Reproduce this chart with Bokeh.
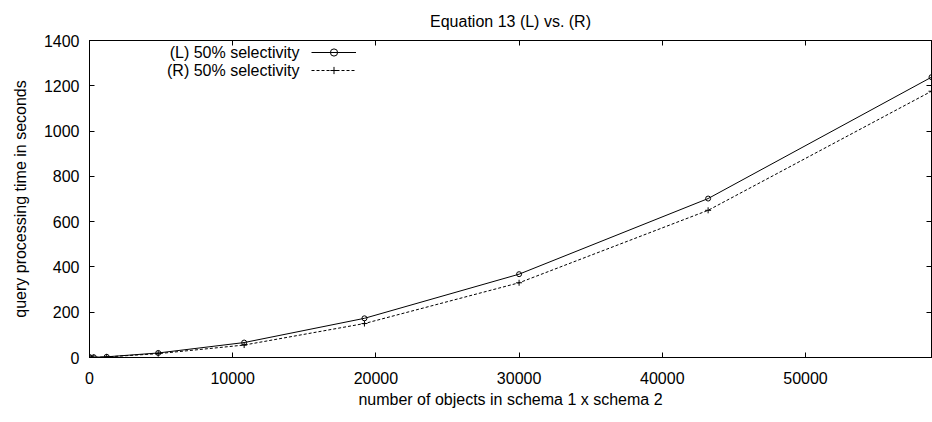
from bokeh.plotting import figure
from bokeh.models import (Range1d, LinearAxis, FixedTicker, CustomJSTickFormatter,
                          Legend, LegendItem, Label)
from bokeh.embed import file_html
from bokeh.resources import INLINE

# ---- data ----
objects = [48, 300, 1200, 4800, 10800, 19200, 30000, 43200, 58800]
time_L = [0.5, 1, 3, 20, 66, 173, 368, 702, 1238]
time_R = [0.4, 0.8, 2.5, 17, 55, 150, 330, 650, 1176]
x_ticks = [0, 10000, 20000, 30000, 40000, 50000]
y_ticks = [0, 200, 400, 600, 800, 1000, 1200, 1400]
title_text = "Equation 13 (L) vs. (R)"
label_L = "(L) 50% selectivity"
label_R = "(R) 50% selectivity"

FONT = "Liberation Sans"
FS = "16px"

p = figure(width=932, height=422, output_backend="svg", toolbar_location=None,
           x_range=Range1d(0, 58800), y_range=Range1d(0, 1400), title=title_text,
           min_border_left=89, min_border_right=1, min_border_top=10, min_border_bottom=65)

p.title.align = "center"
p.title.text_font = FONT
p.title.text_font_size = FS
p.title.text_font_style = "normal"
p.title.text_color = "black"
p.title.standoff = 21

p.xgrid.visible = False
p.ygrid.visible = False
p.outline_line_color = "black"
p.outline_line_width = 1
p.outline_line_alpha = 1

for ax in (p.xaxis[0], p.yaxis[0]):
    ax.major_tick_in = 5
    ax.major_tick_out = 0
    ax.minor_tick_in = 0
    ax.minor_tick_out = 0
    ax.axis_line_color = "black"
    ax.major_tick_line_color = "black"
    ax.major_label_text_font = FONT
    ax.major_label_text_font_size = FS
    ax.major_label_text_color = "black"
    ax.axis_label_text_font = FONT
    ax.axis_label_text_font_size = FS
    ax.axis_label_text_font_style = "normal"
    ax.axis_label_text_color = "black"

p.xaxis[0].ticker = FixedTicker(ticks=x_ticks)
p.yaxis[0].ticker = FixedTicker(ticks=y_ticks)
p.xaxis[0].axis_label = "number of objects in schema 1 x schema 2"
p.yaxis[0].axis_label = "query processing time in seconds"
p.xaxis[0].major_label_standoff = 14
p.yaxis[0].major_label_standoff = 10
p.xaxis[0].axis_label_standoff = 4
p.yaxis[0].axis_label_standoff = 12

blank = CustomJSTickFormatter(code="return ''")
top = LinearAxis(ticker=FixedTicker(ticks=x_ticks), formatter=blank,
                 major_tick_in=5, major_tick_out=0, minor_tick_in=0, minor_tick_out=0,
                 major_label_standoff=0, major_label_text_font_size="0px",
                 axis_line_color="black")
right = LinearAxis(ticker=FixedTicker(ticks=y_ticks), formatter=blank,
                   major_tick_in=5, major_tick_out=0, minor_tick_in=0, minor_tick_out=0,
                   major_label_standoff=0, major_label_text_font_size="0px",
                   axis_line_color="black")
p.add_layout(top, "above")
p.add_layout(right, "right")

lL = p.line(objects, time_L, line_color="black", line_width=1)
sL = p.scatter(objects, time_L, marker="circle", size=5, fill_color=None,
               line_color="black", line_width=1)
lR = p.line(objects, time_R, line_color="black", line_width=1, line_dash="3 2")
sR = p.scatter(objects, time_R, marker="cross", size=6, line_color="black", line_width=1)

legend = Legend(items=[LegendItem(label=" ", renderers=[lL, sL]),
                       LegendItem(label=" ", renderers=[lR, sR])],
                location=(222, 278), glyph_width=45, glyph_height=18,
                label_height=18, label_width=0, label_standoff=0,
                padding=0, spacing=0, margin=0,
                border_line_alpha=0, background_fill_alpha=0)
p.add_layout(legend, "center")

for txt, yoff in ((label_L, 0), (label_R, 18)):
    p.add_layout(Label(x=210, y=316 - 11 - yoff, x_units="screen", y_units="screen",
                       text=txt, text_align="right", text_baseline="middle",
                       text_font=FONT, text_font_size=FS, text_color="black"))

open("out.html", "w").write(file_html(p, INLINE))
